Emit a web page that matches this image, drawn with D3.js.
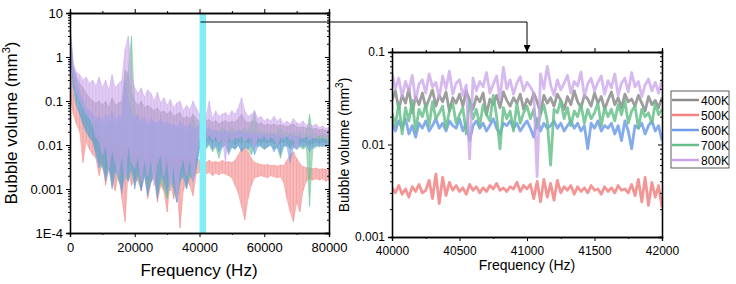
<!DOCTYPE html>
<html>
<head>
<meta charset="utf-8">
<script src="https://cdn.jsdelivr.net/npm/d3@7"></script>
<style>
body { margin: 0; background: #fff; }
svg text { font-family: Arial, "Liberation Sans", sans-serif; fill: #000; }
.axis path, .axis line { stroke: #000; }
</style>
</head>
<body>
<script>
var seriesNames = ["400K", "500K", "600K", "700K", "800K"];
var seriesColors = ["#8c8c8c", "#f28282", "#6e9ce8", "#68bf8c", "#c8a2ea"];
// drawing order of the overview bands (indices into seriesNames)
var bandOrder = [0, 1, 3, 2, 4];

// overview spectrum, sampled every 1000 Hz from 0 to 80000 (upper / lower envelope)
var hi400 = [4,0.6,0.35,0.25,0.2,0.15,0.12,0.1,0.09,0.1,0.08,0.1,0.07,0.12,0.08,0.09,0.1,0.5,0.4,0.15,0.1,0.08,0.1,0.07,0.08,0.07,0.06,0.07,0.055,0.06,0.05,0.06,0.045,0.05,0.055,0.04,0.045,0.04,0.05,0.04,0.035,0.04,0.035,0.038,0.032,0.036,0.03,0.034,0.036,0.032,0.035,0.033,0.04,0.05,0.036,0.032,0.034,0.035,0.03,0.032,0.028,0.03,0.028,0.03,0.027,0.029,0.027,0.026,0.028,0.03,0.026,0.025,0.026,0.024,0.025,0.023,0.024,0.022,0.023,0.021,0.022];
var lo400 = [2,0.25,0.12,0.08,0.05,0.035,0.025,0.015,0.008,0.004,0.006,0.002,0.005,0.0015,0.004,0.003,0.001,0.005,0.003,0.004,0.0015,0.003,0.001,0.004,0.0012,0.003,0.004,0.0008,0.003,0.002,0.001,0.003,0.0015,0.0007,0.002,0.003,0.0015,0.004,0.002,0.005,0.012,0.013,0.012,0.014,0.011,0.013,0.01,0.013,0.012,0.011,0.012,0.01,0.012,0.011,0.012,0.011,0.012,0.01,0.012,0.011,0.012,0.011,0.012,0.011,0.01,0.011,0.012,0.011,0.009,0.011,0.01,0.011,0.012,0.011,0.01,0.011,0.012,0.011,0.012,0.011,0.012];
var hi500 = [0.6,0.15,0.08,0.06,0.05,0.035,0.03,0.025,0.02,0.015,0.012,0.015,0.01,0.012,0.009,0.011,0.008,0.01,0.009,0.007,0.006,0.008,0.006,0.007,0.005,0.007,0.006,0.005,0.006,0.005,0.006,0.005,0.0055,0.005,0.006,0.0045,0.005,0.0055,0.0045,0.005,0.0045,0.0045,0.004,0.0045,0.004,0.0042,0.004,0.0045,0.004,0.0042,0.004,0.0045,0.006,0.008,0.009,0.007,0.005,0.004,0.0038,0.0036,0.0035,0.0036,0.0034,0.0035,0.0033,0.0035,0.0034,0.0045,0.006,0.007,0.005,0.0038,0.0032,0.0031,0.003,0.0029,0.003,0.0028,0.0029,0.0028,0.0028];
var lo500 = [0.15,0.05,0.03,0.02,0.004,0.012,0.008,0.006,0.005,0.002,0.004,0.0012,0.003,0.0015,0.0009,0.0025,0.0006,0.00018,0.0025,0.0012,0.0018,0.0015,0.0009,0.0022,0.0006,0.0014,0.0018,0.0005,0.0012,0.0009,0.0003,0.0014,0.0006,0.0012,0.00013,0.0009,0.0016,0.0012,0.0007,0.0022,0.0024,0.0025,0.0022,0.0024,0.002,0.0023,0.0021,0.0023,0.0022,0.002,0.0018,0.0012,0.0008,0.0004,0.0002,0.0006,0.0012,0.0018,0.0019,0.002,0.0019,0.0018,0.002,0.0019,0.0018,0.0019,0.0014,0.0006,0.0003,0.00018,0.0005,0.0003,0.0009,0.0015,0.0017,0.0016,0.0017,0.0016,0.0017,0.0015,0.0016];
var hi600 = [5,0.6,0.3,0.15,0.1,0.07,0.06,0.05,0.04,0.045,0.035,0.05,0.04,0.06,0.035,0.05,0.045,0.3,0.1,0.05,0.04,0.05,0.035,0.045,0.03,0.04,0.035,0.03,0.04,0.03,0.035,0.028,0.03,0.025,0.035,0.028,0.025,0.03,0.022,0.025,0.03,0.022,0.02,0.025,0.02,0.022,0.018,0.02,0.022,0.018,0.02,0.018,0.022,0.02,0.018,0.02,0.017,0.019,0.018,0.016,0.018,0.017,0.016,0.018,0.015,0.017,0.016,0.015,0.017,0.016,0.015,0.016,0.014,0.015,0.016,0.014,0.015,0.013,0.014,0.013,0.012];
var lo600 = [1.5,0.2,0.08,0.05,0.03,0.02,0.015,0.012,0.006,0.003,0.004,0.0015,0.003,0.001,0.0025,0.002,0.0008,0.003,0.0015,0.003,0.001,0.0025,0.0009,0.002,0.0007,0.0015,0.0025,0.0006,0.002,0.0015,0.0008,0.002,0.0012,0.0005,0.0015,0.002,0.001,0.0025,0.0015,0.003,0.008,0.01,0.009,0.011,0.008,0.01,0.007,0.009,0.01,0.006,0.009,0.008,0.01,0.007,0.009,0.008,0.01,0.006,0.009,0.01,0.008,0.009,0.01,0.007,0.009,0.006,0.01,0.009,0.004,0.009,0.008,0.01,0.009,0.01,0.007,0.009,0.01,0.009,0.01,0.009,0.01];
var hi700 = [4,0.5,0.25,0.12,0.08,0.06,0.045,0.035,0.03,0.035,0.028,0.035,0.03,0.04,0.028,0.035,0.03,0.2,0.5,3,0.06,0.035,0.03,0.035,0.026,0.03,0.026,0.024,0.03,0.024,0.026,0.024,0.022,0.024,0.026,0.022,0.02,0.024,0.05,0.022,0.03,0.025,0.022,0.025,0.02,0.022,0.02,0.025,0.022,0.02,0.025,0.02,0.022,0.02,0.025,0.02,0.03,0.06,0.022,0.02,0.02,0.018,0.02,0.018,0.02,0.025,0.018,0.02,0.018,0.02,0.018,0.02,0.017,0.018,0.05,0.017,0.018,0.016,0.018,0.016,0.017];
var lo700 = [1.5,0.2,0.08,0.05,0.03,0.02,0.015,0.012,0.007,0.004,0.003,0.002,0.004,0.0012,0.003,0.0015,0.001,0.002,0.0015,0.003,0.0012,0.002,0.001,0.0025,0.0008,0.0015,0.002,0.0007,0.0015,0.001,0.0006,0.0015,0.001,0.0005,0.0015,0.002,0.001,0.002,0.0015,0.003,0.008,0.009,0.008,0.01,0.007,0.009,0.005,0.009,0.01,0.007,0.009,0.008,0.01,0.007,0.009,0.008,0.006,0.009,0.01,0.009,0.008,0.009,0.01,0.008,0.009,0.005,0.009,0.01,0.008,0.009,0.008,0.009,0.008,0.009,0.0004,0.008,0.009,0.01,0.009,0.01,0.01];
var hi800 = [6,0.7,0.45,0.4,0.3,0.35,0.25,0.3,0.22,0.35,0.2,0.3,0.18,0.4,0.2,0.25,0.3,1.5,3,0.4,0.2,0.15,0.2,0.12,0.18,0.15,0.1,0.16,0.09,0.12,0.08,0.11,0.07,0.09,0.1,0.06,0.08,0.065,0.1,0.07,0.05,0.06,0.045,0.1,0.04,0.06,0.045,0.05,0.055,0.045,0.06,0.05,0.07,0.12,0.06,0.045,0.05,0.06,0.04,0.045,0.035,0.04,0.035,0.045,0.035,0.04,0.03,0.035,0.03,0.04,0.032,0.03,0.035,0.028,0.03,0.027,0.03,0.025,0.027,0.024,0.025];
var lo800 = [2,0.3,0.15,0.1,0.07,0.05,0.04,0.03,0.015,0.012,0.006,0.01,0.003,0.008,0.004,0.002,0.006,0.0015,0.01,0.004,0.003,0.006,0.0015,0.005,0.002,0.005,0.0012,0.004,0.006,0.002,0.005,0.0009,0.004,0.0006,0.003,0.005,0.002,0.005,0.0015,0.006,0.015,0.016,0.014,0.017,0.013,0.016,0.011,0.015,0.004,0.016,0.012,0.015,0.014,0.016,0.012,0.015,0.014,0.009,0.015,0.014,0.016,0.013,0.015,0.014,0.01,0.015,0.014,0.016,0.013,0.014,0.008,0.015,0.014,0.016,0.013,0.015,0.014,0.016,0.015,0.014,0.015];

// zoomed spectrum, 40000-42000 Hz, sampled every 25 Hz
var z400 = [0.030,0.038,0.024,0.034,0.028,0.040,0.022,0.033,0.027,0.036,0.025,0.031,0.039,0.026,0.034,0.029,0.037,0.023,0.032,0.028,0.035,0.026,0.038,0.030,0.024,0.033,0.029,0.036,0.021,0.031,0.027,0.034,0.025,0.037,0.030,0.026,0.032,0.028,0.035,0.024,0.031,0.027,0.036,0.029,0.022,0.034,0.028,0.032,0.026,0.035,0.030,0.024,0.033,0.027,0.038,0.029,0.025,0.034,0.031,0.026,0.036,0.028,0.033,0.024,0.030,0.037,0.027,0.032,0.025,0.035,0.029,0.031,0.026,0.034,0.028,0.023,0.033,0.027,0.030,0.025,0.032];
var z500 = [0.0034,0.0030,0.0036,0.0029,0.0033,0.0027,0.0035,0.0031,0.0037,0.0030,0.0032,0.0041,0.0026,0.0048,0.0023,0.0044,0.0028,0.0039,0.0032,0.0036,0.0031,0.0034,0.0029,0.0037,0.0032,0.0035,0.0030,0.0034,0.0031,0.0036,0.0033,0.0038,0.0032,0.0034,0.0031,0.0035,0.0033,0.0039,0.0031,0.0036,0.0033,0.0037,0.0026,0.0040,0.0024,0.0042,0.0027,0.0038,0.0025,0.0041,0.0030,0.0035,0.0032,0.0036,0.0029,0.0035,0.0031,0.0034,0.0030,0.0036,0.0032,0.0033,0.0029,0.0035,0.0031,0.0034,0.0030,0.0036,0.0032,0.0033,0.0030,0.0037,0.0028,0.0042,0.0024,0.0044,0.0022,0.0039,0.0027,0.0036,0.0021];
var z600 = [0.017,0.014,0.018,0.015,0.019,0.013,0.016,0.012,0.017,0.015,0.018,0.014,0.016,0.019,0.015,0.017,0.014,0.018,0.016,0.015,0.019,0.014,0.017,0.011,0.016,0.018,0.015,0.017,0.014,0.016,0.019,0.015,0.013,0.017,0.016,0.018,0.015,0.017,0.014,0.016,0.018,0.015,0.012,0.019,0.014,0.017,0.015,0.016,0.018,0.015,0.017,0.014,0.016,0.018,0.015,0.017,0.014,0.016,0.009,0.017,0.015,0.018,0.014,0.016,0.015,0.017,0.013,0.016,0.011,0.018,0.014,0.009,0.016,0.015,0.017,0.013,0.016,0.018,0.014,0.016,0.011];
var z700 = [0.022,0.016,0.028,0.013,0.025,0.018,0.030,0.014,0.024,0.020,0.027,0.016,0.029,0.019,0.022,0.026,0.015,0.023,0.028,0.017,0.021,0.025,0.013,0.030,0.019,0.024,0.016,0.027,0.021,0.018,0.034,0.020,0.009,0.025,0.019,0.023,0.014,0.028,0.017,0.022,0.026,0.019,0.024,0.015,0.021,0.027,0.018,0.006,0.024,0.022,0.030,0.019,0.025,0.016,0.023,0.020,0.027,0.017,0.024,0.019,0.022,0.028,0.016,0.025,0.020,0.024,0.018,0.027,0.021,0.030,0.017,0.023,0.026,0.015,0.024,0.020,0.022,0.017,0.028,0.021,0.024];
var z800 = [0.060,0.040,0.052,0.033,0.048,0.038,0.056,0.030,0.045,0.050,0.036,0.058,0.042,0.047,0.032,0.055,0.040,0.062,0.035,0.046,0.050,0.034,0.044,0.007,0.052,0.038,0.048,0.042,0.060,0.036,0.045,0.055,0.031,0.068,0.040,0.050,0.035,0.046,0.054,0.038,0.047,0.042,0.036,0.0045,0.058,0.040,0.070,0.044,0.034,0.050,0.039,0.046,0.056,0.036,0.048,0.043,0.061,0.033,0.045,0.052,0.038,0.047,0.055,0.035,0.049,0.041,0.058,0.034,0.046,0.052,0.037,0.060,0.042,0.048,0.033,0.044,0.051,0.038,0.047,0.036,0.050];

var leftXTicks = [0, 20000, 40000, 60000, 80000];
var leftYTicks = [10, 1, 0.1, 0.01, 0.001, 0.0001];
var leftYLabels = ["10", "1", "0.1", "0.01", "0.001", "1E-4"];
var rightXTicks = [40000, 40500, 41000, 41500, 42000];
var rightYTicks = [0.1, 0.01, 0.001];
var rightYLabels = ["0.1", "0.01", "0.001"];
var zoomRange = [40000, 42000];

var bandsHi = [hi400, hi500, hi600, hi700, hi800];
var bandsLo = [lo400, lo500, lo600, lo700, lo800];
var zoomLines = [z400, z500, z600, z700, z800];

var svg = d3.select("body").append("svg")
    .attr("width", 736)
    .attr("height", 284);

function minorLogTicks(lo, hi) {
    var t = [];
    for (var e = Math.round(Math.log10(lo)); e < Math.round(Math.log10(hi)); e++) {
        for (var m = 2; m <= 9; m++) t.push(m * Math.pow(10, e));
    }
    return t;
}

function drawFrame(g, x, y, opt) {
    var x0 = x.range()[0], x1 = x.range()[1], y0 = y.range()[0], y1 = y.range()[1];
    var minorY = minorLogTicks(y.domain()[0], y.domain()[1]);

    // bottom
    g.append("g").attr("class", "axis").attr("transform", "translate(0," + y0 + ")")
        .call(d3.axisBottom(x).tickValues(opt.xTicks).tickSize(4).tickFormat(d3.format("d")))
        .call(function(a){ a.selectAll("text").attr("font-size", opt.tickFont).attr("dy", "0.9em"); });
    g.append("g").attr("class", "axis").attr("transform", "translate(0," + y0 + ")")
        .call(d3.axisBottom(x).tickValues(opt.xMinor).tickSize(2).tickFormat(""));
    // top
    g.append("g").attr("class", "axis").attr("transform", "translate(0," + y1 + ")")
        .call(d3.axisTop(x).tickValues(opt.xTicks).tickSize(4).tickFormat(""));
    g.append("g").attr("class", "axis").attr("transform", "translate(0," + y1 + ")")
        .call(d3.axisTop(x).tickValues(opt.xMinor).tickSize(2).tickFormat(""));
    // left
    g.append("g").attr("class", "axis").attr("transform", "translate(" + x0 + ",0)")
        .call(d3.axisLeft(y).tickValues(opt.yTicks).tickSize(4)
            .tickFormat(function(d, i){ return opt.yLabels[i]; }))
        .call(function(a){ a.selectAll("text").attr("font-size", opt.tickFont); });
    g.append("g").attr("class", "axis").attr("transform", "translate(" + x0 + ",0)")
        .call(d3.axisLeft(y).tickValues(minorY).tickSize(2).tickFormat(""));
    // right
    g.append("g").attr("class", "axis").attr("transform", "translate(" + x1 + ",0)")
        .call(d3.axisLeft(y).tickValues(opt.yTicks).tickSize(4).tickFormat(""));
    g.append("g").attr("class", "axis").attr("transform", "translate(" + x1 + ",0)")
        .call(d3.axisLeft(y).tickValues(minorY).tickSize(2).tickFormat(""));
    g.selectAll(".axis path").attr("stroke-width", 1.3);
}

// ---------- left overview ----------
var xL = d3.scaleLinear().domain([0, 80000]).range([70, 329]);
var yL = d3.scaleLog().domain([0.0001, 10]).range([233, 13]);

var left = svg.append("g");
left.append("clipPath").attr("id", "clipL").append("rect")
    .attr("x", 70).attr("y", 13).attr("width", 259).attr("height", 220);

var bandG = left.append("g").attr("clip-path", "url(#clipL)");
bandOrder.forEach(function(s) {
    var hi = bandsHi[s], lo = bandsLo[s];
    var step = 80000 / (hi.length - 1);
    var pts = hi.map(function(v, i){ return {f: i * step, hi: v, lo: lo[i]}; });
    bandG.append("path").datum(pts)
        .attr("fill", seriesColors[s])
        .attr("fill-opacity", 0.55)
        .attr("stroke", seriesColors[s])
        .attr("stroke-opacity", 0.6)
        .attr("stroke-width", 0.7)
        .attr("d", d3.area()
            .x(function(d){ return xL(d.f); })
            .y0(function(d){ return yL(d.lo); })
            .y1(function(d){ return yL(d.hi); }));
    // each sample drawn as a thin spike between its envelope values
    bandG.append("g").selectAll("line").data(pts).join("line")
        .attr("x1", function(d){ return xL(d.f); })
        .attr("x2", function(d){ return xL(d.f); })
        .attr("y1", function(d){ return yL(d.lo); })
        .attr("y2", function(d){ return yL(d.hi); })
        .attr("stroke", seriesColors[s])
        .attr("stroke-opacity", 0.4)
        .attr("stroke-width", 1);
});

// highlighted zoom window
bandG.append("rect")
    .attr("x", xL(zoomRange[0])).attr("y", 13)
    .attr("width", xL(zoomRange[1]) - xL(zoomRange[0])).attr("height", 220)
    .attr("fill", "#84eef6");

drawFrame(left, xL, yL, {
    xTicks: leftXTicks, xMinor: [10000, 30000, 50000, 70000],
    yTicks: leftYTicks, yLabels: leftYLabels, tickFont: 13
});

left.append("text").attr("x", 199).attr("y", 276).attr("text-anchor", "middle")
    .attr("font-size", 17).text("Frequency (Hz)");
left.append("text").attr("transform", "translate(17,123) rotate(-90)").attr("text-anchor", "middle")
    .attr("font-size", 17)
    .html('Bubble volume (mm<tspan dy="-7" font-size="11">3</tspan><tspan dy="7">)</tspan>');

// ---------- right zoom ----------
var xR = d3.scaleLinear().domain(zoomRange).range([392, 662]);
var yR = d3.scaleLog().domain([0.001, 0.1]).range([237, 52]);

var right = svg.append("g");
right.append("clipPath").attr("id", "clipR").append("rect")
    .attr("x", 392).attr("y", 52).attr("width", 270).attr("height", 185);
var lineG = right.append("g").attr("clip-path", "url(#clipR)");
seriesNames.forEach(function(name, s) {
    var vals = zoomLines[s];
    var step = (zoomRange[1] - zoomRange[0]) / (vals.length - 1);
    lineG.append("path").datum(vals)
        .attr("fill", "none")
        .attr("stroke", seriesColors[s])
        .attr("stroke-opacity", s === 4 ? 0.75 : 0.85)
        .attr("stroke-width", 2.8)
        .attr("stroke-linejoin", "round")
        .attr("d", d3.line()
            .x(function(d, i){ return xR(zoomRange[0] + i * step); })
            .y(function(d){ return yR(d); }));
});

drawFrame(right, xR, yR, {
    xTicks: rightXTicks, xMinor: [40250, 40750, 41250, 41750],
    yTicks: rightYTicks, yLabels: rightYLabels, tickFont: 12
});

right.append("text").attr("x", 527).attr("y", 270).attr("text-anchor", "middle")
    .attr("font-size", 14).text("Frequency (Hz)");
right.append("text").attr("transform", "translate(349,145) rotate(-90)").attr("text-anchor", "middle")
    .attr("font-size", 14)
    .html('Bubble volume (mm<tspan dy="-6" font-size="10">3</tspan><tspan dy="6">)</tspan>');

// connector arrow
var midZoom = (zoomRange[0] + zoomRange[1]) / 2;
svg.append("defs").append("marker").attr("id", "arr")
    .attr("viewBox", "0 0 10 10").attr("refX", 10).attr("refY", 5)
    .attr("markerWidth", 7).attr("markerHeight", 7).attr("orient", "auto")
    .append("path").attr("d", "M0,0L10,5L0,10Z").attr("fill", "#000");
svg.append("path")
    .attr("d", "M" + xL(zoomRange[0] + 300) + ",22H" + xR(midZoom) + "V52")
    .attr("fill", "none").attr("stroke", "#000").attr("stroke-width", 1)
    .attr("marker-end", "url(#arr)");

// legend
var leg = svg.append("g").attr("transform", "translate(671,91)");
leg.append("rect").attr("width", 58).attr("height", 77)
    .attr("fill", "#fff").attr("stroke", "#333").attr("stroke-width", 0.8);
seriesNames.forEach(function(name, s) {
    var yy = 9 + s * 15;
    leg.append("line").attr("x1", 1).attr("x2", 28).attr("y1", yy).attr("y2", yy)
        .attr("stroke", seriesColors[s]).attr("stroke-width", 2.5);
    leg.append("text").attr("x", 30).attr("y", yy + 4.5).attr("font-size", 12).text(name);
});
</script>
</body>
</html>
